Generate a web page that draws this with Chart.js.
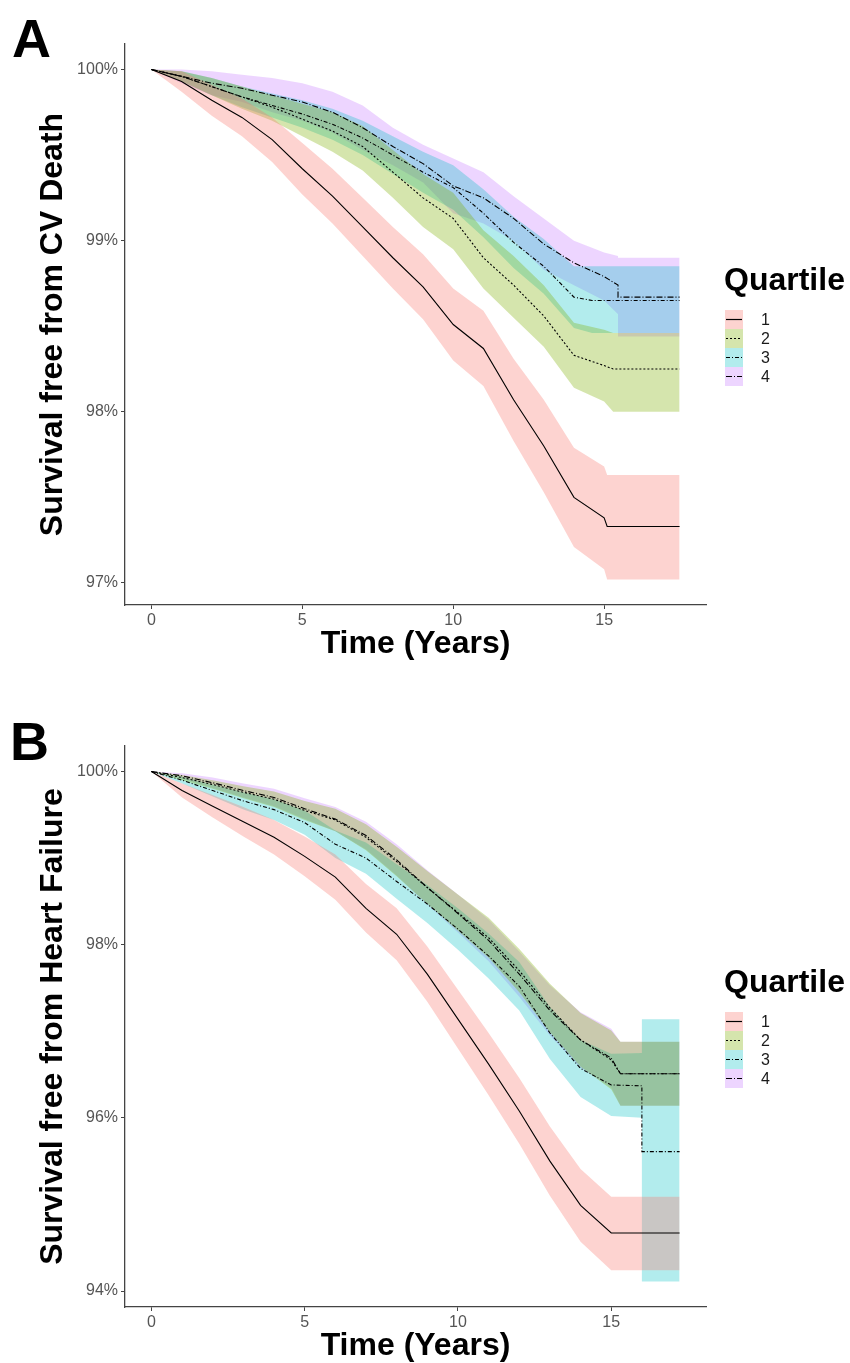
<!DOCTYPE html>
<html>
<head>
<meta charset="utf-8">
<script src="https://cdn.jsdelivr.net/npm/chart.js@4.4.0/dist/chart.umd.min.js"></script>
<style>
  body { margin: 0; background: #fff; overflow: hidden; font-family: 'Liberation Sans', Arial, sans-serif; }
  .panel { position: absolute; left: 0; width: 850px; height: 680px; }
  .letter { position: absolute; font-size: 54px; line-height: 54px; font-weight: bold; color: #000; }
  .legtitle { position: absolute; left: 724px; font-size: 32px; line-height: 32px; font-weight: bold; color: #000; white-space: nowrap; }
  .key { position: absolute; left: 725px; width: 18px; height: 19px; }
  .keylab { position: absolute; left: 761px; font-size: 16px; line-height: 19px; color: #1a1a1a; }
</style>
</head>
<body>
<div class="panel" id="pA" style="top:0px">
  <canvas id="cA" width="850" height="680"></canvas>
  <div class="letter" style="left:12px;top:11px">A</div>
</div>
<div class="panel" id="pB" style="top:702px">
  <canvas id="cB" width="850" height="680"></canvas>
  <div class="letter" style="left:10px;top:12px">B</div>
</div>
<script>
// quartile labels and colours
const quartiles = ['1', '2', '3', '4'];
const fills = ['rgba(248,118,109,0.32)', 'rgba(124,174,0,0.32)', 'rgba(0,191,196,0.30)', 'rgba(199,124,255,0.32)'];
const dashes = [[], [2, 2], [4, 2, 1, 2], [6, 2, 1, 2]];

// Panel A: CV death
const tA1 = [0, 1, 2, 3, 4, 5, 6, 7, 8, 9, 10, 11, 12, 13, 14, 15, 15.1, 17.5];
const sA1 = [100, 99.93, 99.82, 99.72, 99.59, 99.42, 99.26, 99.08, 98.90, 98.73, 98.51, 98.37, 98.07, 97.80, 97.50, 97.38, 97.33, 97.33];
const hiA1 = [100, 99.99, 99.91, 99.83, 99.72, 99.57, 99.42, 99.25, 99.08, 98.92, 98.72, 98.59, 98.31, 98.07, 97.79, 97.68, 97.63, 97.63];
const loA1 = [100, 99.87, 99.73, 99.61, 99.46, 99.27, 99.10, 98.91, 98.72, 98.54, 98.30, 98.15, 97.83, 97.53, 97.21, 97.08, 97.02, 97.02];

const tA2 = [0, 1, 2, 3, 4, 5, 6, 7, 8, 9, 10, 11, 12, 13, 14, 15, 15.3, 17.5];
const sA2 = [100, 99.96, 99.90, 99.84, 99.78, 99.71, 99.64, 99.55, 99.40, 99.25, 99.13, 98.90, 98.74, 98.56, 98.33, 98.27, 98.25, 98.25];
const hiA2 = [100, 99.99, 99.95, 99.90, 99.85, 99.80, 99.75, 99.67, 99.53, 99.39, 99.28, 99.06, 98.91, 98.74, 98.52, 98.48, 98.46, 98.46];
const loA2 = [100, 99.93, 99.85, 99.77, 99.70, 99.61, 99.52, 99.41, 99.25, 99.08, 98.95, 98.72, 98.55, 98.38, 98.14, 98.06, 98.00, 98.00];

const tA3 = [0, 1, 2, 3, 4, 5, 6, 7, 8, 9, 10, 11, 12, 13, 14, 14.6, 17.5];
const sA3 = [100, 99.96, 99.90, 99.84, 99.79, 99.74, 99.68, 99.60, 99.50, 99.40, 99.31, 99.16, 98.99, 98.85, 98.67, 98.65, 98.65];
const hiA3 = [100, 99.99, 99.95, 99.90, 99.86, 99.82, 99.77, 99.70, 99.61, 99.52, 99.44, 99.30, 99.14, 99.01, 98.85, 98.85, 98.85];
const loA3 = [100, 99.93, 99.85, 99.78, 99.72, 99.66, 99.59, 99.50, 99.39, 99.28, 99.18, 99.02, 98.84, 98.69, 98.49, 98.46, 98.46];

const tA4 = [0, 1, 2, 3, 4, 5, 6, 7, 8, 9, 10, 11, 12, 13, 14, 15, 15.46, 15.46, 17.5];
const sA4 = [100, 99.96, 99.92, 99.89, 99.85, 99.81, 99.75, 99.66, 99.55, 99.45, 99.32, 99.25, 99.13, 98.98, 98.87, 98.79, 98.74, 98.67, 98.67];
const hiA4 = [100, 100, 99.99, 99.97, 99.95, 99.92, 99.87, 99.79, 99.66, 99.56, 99.48, 99.40, 99.26, 99.13, 99.00, 98.93, 98.91, 98.90, 98.90];
const loA4 = [100, 99.92, 99.85, 99.81, 99.75, 99.70, 99.63, 99.53, 99.44, 99.34, 99.16, 99.10, 99.00, 98.83, 98.74, 98.65, 98.57, 98.44, 98.44];

// Panel B: heart failure
const tB1 = [0, 1, 2, 3, 4, 5, 6, 7, 8, 9, 10, 11, 12, 13, 14, 15, 17.23];
const sB1 = [100, 99.78, 99.60, 99.42, 99.24, 99.02, 98.78, 98.42, 98.12, 97.66, 97.14, 96.62, 96.08, 95.50, 94.99, 94.67, 94.67];
const hiB1 = [100, 99.86, 99.73, 99.59, 99.44, 99.25, 99.04, 98.70, 98.42, 97.98, 97.48, 96.98, 96.46, 95.90, 95.41, 95.09, 95.09];
const loB1 = [100, 99.70, 99.47, 99.25, 99.04, 98.79, 98.52, 98.14, 97.82, 97.34, 96.80, 96.26, 95.70, 95.10, 94.57, 94.24, 94.24];

const tB2 = [0, 1, 2, 3, 4, 5, 6, 7, 8, 9, 10, 11, 12, 13, 14, 15, 15.3, 17.23];
const sB2 = [100, 99.93, 99.85, 99.76, 99.68, 99.55, 99.44, 99.24, 98.96, 98.66, 98.37, 98.08, 97.70, 97.27, 96.90, 96.67, 96.51, 96.51];
const hiB2 = [100, 99.96, 99.90, 99.83, 99.77, 99.66, 99.57, 99.39, 99.13, 98.85, 98.58, 98.31, 97.95, 97.55, 97.21, 97.01, 96.88, 96.88];
const loB2 = [100, 99.90, 99.80, 99.69, 99.59, 99.44, 99.31, 99.09, 98.79, 98.47, 98.16, 97.85, 97.45, 96.99, 96.59, 96.33, 96.14, 96.14];

const tB3 = [0, 1, 2, 3, 4, 5, 6, 7, 8, 9, 10, 11, 12, 13, 14, 15, 16, 16, 17.23];
const sB3 = [100, 99.90, 99.78, 99.66, 99.56, 99.41, 99.16, 99.00, 98.73, 98.47, 98.18, 97.87, 97.52, 96.98, 96.57, 96.38, 96.37, 95.61, 95.61];
const hiB3 = [100, 99.94, 99.85, 99.76, 99.68, 99.55, 99.32, 99.18, 98.93, 98.69, 98.42, 98.13, 97.80, 97.28, 96.90, 96.74, 96.75, 97.14, 97.14];
const loB3 = [100, 99.86, 99.71, 99.56, 99.44, 99.27, 99.00, 98.82, 98.53, 98.25, 97.94, 97.61, 97.24, 96.68, 96.24, 96.02, 96.00, 94.11, 94.11];

const tB4 = [0, 1, 2, 3, 4, 5, 6, 7, 8, 9, 10, 11, 12, 13, 14, 15, 15.3, 17.23];
const sB4 = [100, 99.95, 99.87, 99.78, 99.70, 99.57, 99.45, 99.26, 98.98, 98.66, 98.36, 98.05, 97.66, 97.24, 96.90, 96.69, 96.51, 96.51];
const hiB4 = [100, 99.98, 99.93, 99.86, 99.80, 99.69, 99.59, 99.42, 99.16, 98.86, 98.58, 98.29, 97.92, 97.53, 97.22, 97.03, 96.88, 96.88];
const loB4 = [100, 99.92, 99.81, 99.70, 99.60, 99.45, 99.31, 99.10, 98.80, 98.46, 98.14, 97.81, 97.40, 96.95, 96.58, 96.35, 96.14, 96.14];

const xTicks = [0, 5, 10, 15];
const yTicksA = [97, 98, 99, 100];
const yTicksB = [94, 96, 98, 100];

Chart.defaults.font.family = "'Liberation Sans', Arial, sans-serif";
Chart.defaults.animation = false;

function pts(t, v) { return t.map((x, i) => ({ x: x, y: v[i] })); }

function makeChart(id, groups, opts) {
  const ds = [];
  groups.forEach((g, i) => {
    ds.push({ data: pts(g.t, g.s), borderColor: '#000', borderWidth: 1.1, borderDash: dashes[i],
      pointRadius: 0, fill: false, order: 0 });
  });
  groups.forEach((g, i) => {
    ds.push({ data: pts(g.t, g.hi), borderColor: 'rgba(0,0,0,0)', borderWidth: 0, pointRadius: 0,
      backgroundColor: fills[i], fill: '+1', order: 1 });
    ds.push({ data: pts(g.t, g.lo), borderColor: 'rgba(0,0,0,0)', borderWidth: 0, pointRadius: 0,
      fill: false, order: 1 });
  });
  const titleFont = { size: 32, weight: 'bold' };
  return new Chart(document.getElementById(id), {
    type: 'line',
    data: { datasets: ds },
    options: {
      responsive: false,
      layout: { padding: { top: 44, right: 144, left: 0, bottom: 0 } },
      plugins: { legend: { display: false }, tooltip: { enabled: false } },
      scales: {
        x: {
          type: 'linear', min: opts.xmin, max: opts.xmax,
          afterBuildTicks: s => { s.ticks = xTicks.map(v => ({ value: v })); },
          afterFit: s => { s.height = 75; },
          grid: { display: true, drawOnChartArea: false, drawTicks: true, tickLength: 4, color: '#444' },
          border: { display: true, color: '#444', width: 1.3 },
          ticks: { color: '#555', font: { size: 16 }, padding: 2, maxRotation: 0 },
          title: { display: true, text: 'Time (Years)', color: '#000', font: titleFont, padding: { top: 0, bottom: 17 } }
        },
        y: {
          min: opts.ymin, max: opts.ymax,
          afterBuildTicks: s => { s.ticks = opts.yTicks.map(v => ({ value: v })); },
          afterFit: s => { s.width = 125; },
          grid: { display: true, drawOnChartArea: false, drawTicks: true, tickLength: 4, color: '#444' },
          border: { display: true, color: '#444', width: 1.3 },
          ticks: { color: '#555', font: { size: 16 }, padding: 3, callback: v => v + '%' },
          title: { display: true, text: opts.ytitle, color: '#000', font: titleFont, padding: { top: 34, bottom: 0 } }
        }
      }
    }
  });
}

function makeLegend(panelId) {
  const p = document.getElementById(panelId);
  const t = document.createElement('div');
  t.className = 'legtitle';
  t.style.top = '263px';
  t.textContent = 'Quartile';
  p.appendChild(t);
  quartiles.forEach((q, i) => {
    const top = 310 + i * 19;
    const k = document.createElement('div');
    k.className = 'key';
    k.style.top = top + 'px';
    k.innerHTML = '<svg width="18" height="19"><rect x="0" y="0" width="18" height="19" fill="' + fills[i] + '"/>' +
      '<line x1="1" y1="9.5" x2="17" y2="9.5" stroke="#000" stroke-width="1.2"' +
      (dashes[i].length ? ' stroke-dasharray="' + dashes[i].join(',') + '"' : '') + '/></svg>';
    p.appendChild(k);
    const l = document.createElement('div');
    l.className = 'keylab';
    l.style.top = top + 'px';
    l.textContent = q;
    p.appendChild(l);
  });
}

makeChart('cA', [
  { t: tA1, s: sA1, hi: hiA1, lo: loA1 },
  { t: tA2, s: sA2, hi: hiA2, lo: loA2 },
  { t: tA3, s: sA3, hi: hiA3, lo: loA3 },
  { t: tA4, s: sA4, hi: hiA4, lo: loA4 }
], { xmin: -0.875, xmax: 18.375, ymin: 96.871, ymax: 100.149, yTicks: yTicksA, ytitle: 'Survival free from CV Death' });

makeChart('cB', [
  { t: tB1, s: sB1, hi: hiB1, lo: loB1 },
  { t: tB2, s: sB2, hi: hiB2, lo: loB2 },
  { t: tB3, s: sB3, hi: hiB3, lo: loB3 },
  { t: tB4, s: sB4, hi: hiB4, lo: loB4 }
], { xmin: -0.8615, xmax: 18.0915, ymin: 93.8155, ymax: 100.2945, yTicks: yTicksB, ytitle: 'Survival free from Heart Failure' });

makeLegend('pA');
makeLegend('pB');
</script>
</body>
</html>
